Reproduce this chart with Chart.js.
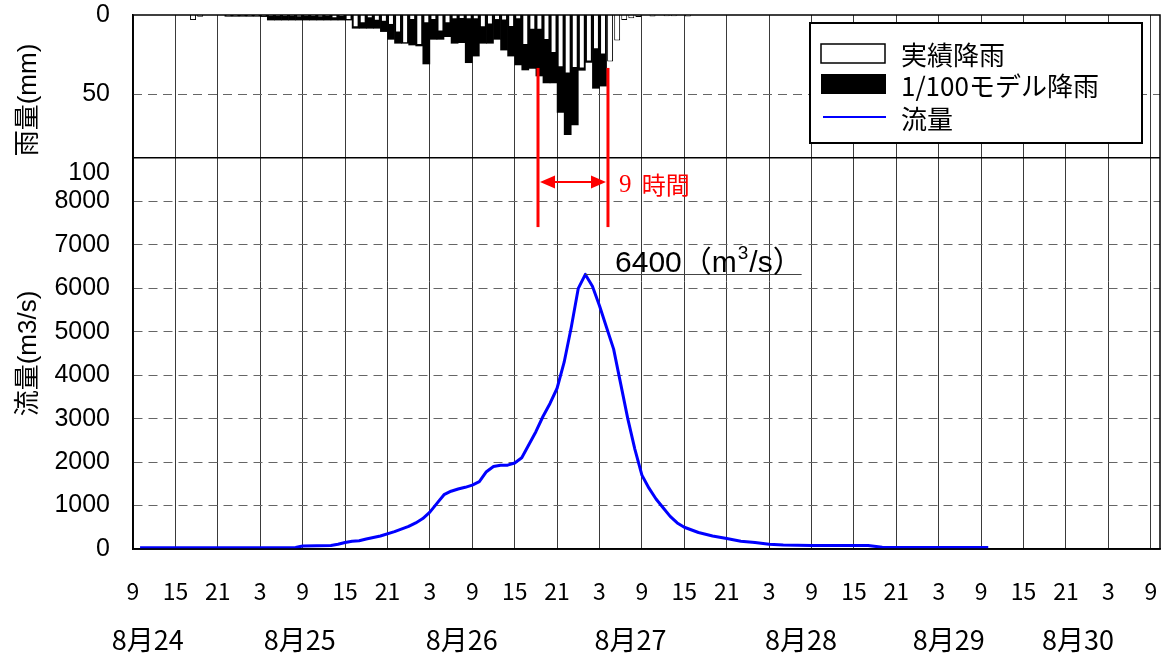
<!DOCTYPE html>
<html>
<head>
<meta charset="utf-8">
<script src="https://cdn.jsdelivr.net/npm/chart.js@4.4.1/dist/chart.umd.min.js"></script>
<style>
  html, body { margin: 0; padding: 0; background: #fff; }
</style>
</head>
<body>
<canvas id="myChart" width="1163" height="659"></canvas>
<script>
// x axis is "hours since 8/24 9:00"
const START_HOUR = 9;
const xTickHours = [0, 6, 12, 18, 24, 30, 36, 42, 48, 54, 60, 66, 72, 78, 84, 90, 96, 102, 108, 114, 120, 126, 132, 138, 144];
const dateLabels = ['8月24', '8月25', '8月26', '8月27', '8月28', '8月29', '8月30'];
const dateLabelHours = [2.1, 23.6, 46.5, 70.4, 94.5, 115.4, 133.7];

// hourly rainfall (mm), bar covers [h, h+1]
const rainHours  = [8, 9, 13, 14, 15, 16, 17, 18, 19, 20, 21, 22, 23, 24, 25, 26, 27, 28, 29, 30,
                    31, 32, 33, 34, 35, 36, 37, 38, 39, 40, 41, 42, 43, 44, 45, 46, 47, 48, 49, 50,
                    51, 52, 53, 54, 55, 56, 57, 58, 59, 60, 61, 62, 63, 64, 65, 66, 67, 68, 69, 70,
                    71, 73, 75, 76, 78];
const rainActual = [3.2, 1.1, 0.8, 0.8, 0.6, 0.8, 0.8, 1.0, 1.0, 1.0, 1.2, 1.0, 1.5, 1.0, 1.2, 1.5, 1.0, 2.0, 1.2, 3.2,
                    7.8, 5.3, 2.1, 3.6, 4.2, 6.3, 11.0, 17.9, 3.2, 19.0, 5.3, 3.2, 10.5, 5.3, 2.7, 2.5, 2.7, 2.7, 7.8, 6.0,
                    3.2, 3.5, 7.6, 2.7, 19.0, 9.3, 9.3, 15.8, 24.0, 33.0, 37.0, 33.5, 33.8, 29.5, 21.6, 25.0, 29.5, 16.2, 3.2, 2.1,
                    1.2, 1.0, 0.8, 0.8, 1.0];
const rainModel  = [null, null, 0.8, 0.8, 0.8, 0.8, 0.8, 1.0, 3.2, 3.2, 3.2, 3.2, 3.2, 3.2, 3.2, 3.2, 3.2, 3.2, 3.2, 3.2,
                    8.4, 8.4, 8.4, 8.4, 10.5, 15.4, 17.9, 17.9, 19.0, 19.6, 31.0, 15.4, 15.4, 13.7, 17.9, 17.5, 30.2, 26.0, 17.9, 17.9,
                    15.4, 22.2, 26.0, 31.6, 34.8, 33.8, 38.6, 43.0, 43.0, 61.6, 75.7, 69.6, 35.0, 30.0, 46.4, 45.0, null, null, null, null,
                    null, null, null, null, null];

// discharge (m3/s)
const flowHours  = [1, 23, 24, 28, 29, 30, 31, 32, 33, 35, 37, 39, 40, 41, 42, 43, 44, 45, 46, 47,
                    48, 49, 50, 51, 52, 53, 54, 55, 56, 57, 58, 59, 60, 61, 62, 63, 64, 65, 66, 67,
                    68, 69, 70, 71, 72, 73, 74, 75, 76, 77, 78, 80, 82, 84, 86, 88, 90, 92, 96, 104,
                    106, 121];
const flowValues = [30, 35, 70, 80, 110, 150, 180, 190, 230, 300, 400, 520, 600, 700, 850, 1050, 1250, 1330, 1380, 1420,
                    1470, 1550, 1780, 1900, 1930, 1930, 1980, 2100, 2400, 2700, 3050, 3350, 3700, 4300, 5100, 6000, 6320, 6050, 5600, 5100,
                    4600, 3800, 3000, 2300, 1700, 1400, 1150, 950, 750, 600, 500, 380, 300, 240, 180, 150, 110, 90, 80, 80,
                    40, 35];

const flowTicks = [0, 1000, 2000, 3000, 4000, 5000, 6000, 7000, 8000, 9000];
const FLOW_PANEL_TOP = 9000;
const rainTicks = [0, 50, 100];
const rainGridValues = [50];

// annotations
const lagHours = [57.3, 67.2];
const lagLabel = ['9', ' 時間'];
const peakLabel = ['6400', '（m', '3', '/s）'];

// layout: rain panel occupies the top part of the plot, flow the rest
const RAIN_SHARE = 143 / 534;
const FLOW_MAX = FLOW_PANEL_TOP / (1 - RAIN_SHARE);
const RAIN_MAX = 100 * 534 / 158;

const SANS = '"Liberation Sans", "Noto Sans CJK JP", sans-serif';
const CJK = '"Noto Sans CJK JP", "Liberation Sans", sans-serif';

const toPoints = (xs, ys, shift) => xs.map((x, i) => ({x: x + shift, y: ys[i]})).filter(p => p.y !== null);
const noPad = s => { s.paddingTop = 0; s.paddingBottom = 0; s.paddingLeft = 0; s.paddingRight = 0; };

const decor = {
  id: 'decor',
  beforeDatasetsDraw(chart) {
    const {ctx, chartArea: a, scales: {rain}} = chart;
    ctx.save();
    ctx.strokeStyle = '#666';
    ctx.lineWidth = 1;
    ctx.setLineDash([9, 6]);
    rainGridValues.forEach(v => {
      const y = Math.round(rain.getPixelForValue(v)) + 0.5;
      ctx.beginPath();
      ctx.moveTo(a.left, y);
      ctx.lineTo(a.right, y);
      ctx.stroke();
    });
    ctx.restore();
  },
  afterDraw(chart) {
    const {ctx, chartArea: a, scales: {x, flow, rain}} = chart;
    ctx.save();

    // frame
    ctx.strokeStyle = '#000';
    ctx.lineWidth = 1.5;
    ctx.strokeRect(a.left, a.top, a.right - a.left, a.bottom - a.top);

    // rain tick labels
    ctx.fillStyle = '#000';
    ctx.font = '25px ' + SANS;
    ctx.textAlign = 'right';
    ctx.textBaseline = 'middle';
    rainTicks.forEach(v => ctx.fillText(String(v), a.left - 23, rain.getPixelForValue(v)));

    // axis titles
    ctx.font = '26px ' + SANS;
    ctx.textAlign = 'center';
    const drawV = (txt, cx, cy) => {
      ctx.save();
      ctx.translate(cx, cy);
      ctx.rotate(-Math.PI / 2);
      ctx.fillText(txt, 0, 0);
      ctx.restore();
    };
    drawV('雨量(mm)', 29, (rain.getPixelForValue(0) + rain.getPixelForValue(100)) / 2 + 6);
    drawV('流量(m3/s)', 29, (flow.getPixelForValue(0) + flow.getPixelForValue(FLOW_PANEL_TOP)) / 2);

    // date labels
    ctx.font = '27px ' + CJK;
    ctx.textBaseline = 'middle';
    dateLabels.forEach((t, i) => ctx.fillText(t, x.getPixelForValue(dateLabelHours[i]), 640));

    // legend
    const lx = a.right - 350, ly = a.top + 8, lw = 332, lh = 120;
    ctx.fillStyle = '#fff';
    ctx.fillRect(lx, ly, lw, lh);
    ctx.strokeStyle = '#000';
    ctx.lineWidth = 2;
    ctx.strokeRect(lx, ly, lw, lh);
    const ds = chart.data.datasets;
    const rows = [ly + 30, ly + 61, ly + 94];
    ctx.lineWidth = 1.5;
    ctx.fillStyle = ds[0].backgroundColor;
    ctx.fillRect(lx + 11, rows[0] - 9, 64, 19);
    ctx.strokeRect(lx + 11, rows[0] - 9, 64, 19);
    ctx.fillStyle = ds[1].backgroundColor;
    ctx.fillRect(lx + 11, rows[1] - 10, 65, 20);
    ctx.strokeStyle = ds[2].borderColor;
    ctx.lineWidth = 2;
    ctx.beginPath();
    ctx.moveTo(lx + 13, rows[2]);
    ctx.lineTo(lx + 76, rows[2]);
    ctx.stroke();
    ctx.fillStyle = '#000';
    ctx.font = '26px ' + CJK;
    ctx.textAlign = 'left';
    ds.forEach((d, i) => ctx.fillText(d.label, lx + 91, rows[i] + 2));

    // lag-time marker
    const xl = x.getPixelForValue(lagHours[0]);
    const xr = x.getPixelForValue(lagHours[1]);
    const yTop = rain.getPixelForValue(33.5);
    const yBot = flow.getPixelForValue(7410);
    const yArr = flow.getPixelForValue(8450);
    ctx.strokeStyle = '#ff0000';
    ctx.fillStyle = '#ff0000';
    ctx.lineWidth = 3;
    [xl, xr].forEach(px => {
      ctx.beginPath();
      ctx.moveTo(px, yTop);
      ctx.lineTo(px, yBot);
      ctx.stroke();
    });
    ctx.lineWidth = 2;
    ctx.beginPath();
    ctx.moveTo(xl + 14, yArr);
    ctx.lineTo(xr - 14, yArr);
    ctx.stroke();
    [[xl + 2, 1], [xr - 2, -1]].forEach(([tip, dir]) => {
      ctx.beginPath();
      ctx.moveTo(tip, yArr);
      ctx.lineTo(tip + dir * 15, yArr - 6.5);
      ctx.lineTo(tip + dir * 15, yArr + 6.5);
      ctx.closePath();
      ctx.fill();
    });
    ctx.font = '25px "Liberation Serif", "Noto Sans CJK JP", serif';
    ctx.textBaseline = 'middle';
    ctx.fillText(lagLabel[0], xr + 11, yArr + 4);
    ctx.font = '24px "Noto Sans CJK JP", serif';
    ctx.fillText(lagLabel[1], xr + 11 + ctx.measureText(lagLabel[0]).width + 4, yArr + 3);

    // peak discharge label
    const peak = Math.max(...flowValues);
    const pi = flowValues.indexOf(peak);
    const py = flow.getPixelForValue(peak);
    ctx.strokeStyle = '#444';
    ctx.lineWidth = 1;
    ctx.beginPath();
    ctx.moveTo(x.getPixelForValue(flowHours[pi]), Math.round(py) + 0.5);
    ctx.lineTo(x.getPixelForValue(94.6), Math.round(py) + 0.5);
    ctx.stroke();
    ctx.fillStyle = '#000';
    ctx.textBaseline = 'alphabetic';
    let tx = x.getPixelForValue(68.2);
    const by = py - 2;
    ctx.font = '30px ' + SANS;
    ctx.fillText(peakLabel[0], tx, by);
    tx += ctx.measureText(peakLabel[0]).width;
    ctx.fillText(peakLabel[1], tx, by);
    tx += ctx.measureText(peakLabel[1]).width;
    ctx.font = '19px ' + SANS;
    ctx.fillText(peakLabel[2], tx + 1, by - 13);
    tx += ctx.measureText(peakLabel[2]).width + 2;
    ctx.font = '30px ' + SANS;
    ctx.fillText(peakLabel[3], tx, by);

    ctx.restore();
  }
};

const ctx = document.getElementById('myChart').getContext('2d');
const myChart = new Chart(ctx, {
  data: {
    datasets: [
      {
        type: 'bar',
        label: '実績降雨',
        data: toPoints(rainHours, rainActual, 0.5),
        yAxisID: 'rain',
        backgroundColor: '#ffffff',
        borderColor: '#000000',
        borderWidth: 1,
        grouped: false,
        barPercentage: 0.84,
        categoryPercentage: 1
      },
      {
        type: 'bar',
        label: '1/100モデル降雨',
        data: toPoints(rainHours, rainModel, 0.5),
        yAxisID: 'rain',
        backgroundColor: '#000000',
        borderWidth: 0,
        grouped: false,
        barPercentage: 1,
        categoryPercentage: 1
      },
      {
        type: 'line',
        label: '流量',
        data: toPoints(flowHours, flowValues, 0),
        yAxisID: 'flow',
        borderColor: '#0000ff',
        borderWidth: 3,
        pointRadius: 0,
        tension: 0,
        borderJoinStyle: 'round'
      }
    ]
  },
  options: {
    responsive: false,
    animation: false,
    layout: { padding: { top: 15, right: 3, left: 0, bottom: 0 } },
    plugins: {
      legend: { display: false },
      tooltip: { enabled: false }
    },
    scales: {
      x: {
        type: 'linear',
        offset: false,
        min: 0,
        max: 145.3,
        afterBuildTicks: s => { s.ticks = xTickHours.map(v => ({value: v})); },
        afterFit: s => { s.height = 110; noPad(s); },
        ticks: {
          callback: v => String((START_HOUR + v) % 24),
          font: { family: CJK, size: 23 },
          color: '#000',
          padding: 28,
          maxRotation: 0,
          autoSkip: false
        },
        grid: { offset: false, color: '#3a3a3a', lineWidth: 1, drawTicks: false },
        border: { color: '#000', width: 1.5 }
      },
      flow: {
        type: 'linear',
        position: 'left',
        min: 0,
        max: FLOW_MAX,
        afterBuildTicks: s => { s.ticks = flowTicks.map(v => ({value: v})); },
        afterFit: s => { s.width = 133; noPad(s); },
        ticks: {
          callback: v => v >= FLOW_PANEL_TOP ? '' : String(v),
          font: { family: SANS, size: 25 },
          color: '#000',
          padding: 23,
          autoSkip: false
        },
        grid: {
          color: c => c.tick && c.tick.value === FLOW_PANEL_TOP ? '#000' : '#666',
          lineWidth: c => c.tick && c.tick.value === FLOW_PANEL_TOP ? 1.5 : 1,
          drawTicks: false
        },
        border: {
          color: '#000',
          width: 1.5,
          dash: c => (c.tick && c.tick.value !== FLOW_PANEL_TOP && c.tick.value !== 0) ? [9, 6] : []
        }
      },
      rain: {
        type: 'linear',
        position: 'left',
        display: false,
        reverse: true,
        min: 0,
        max: RAIN_MAX,
        afterFit: s => { s.width = 0; noPad(s); }
      }
    }
  },
  plugins: [decor]
});
</script>
</body>
</html>
